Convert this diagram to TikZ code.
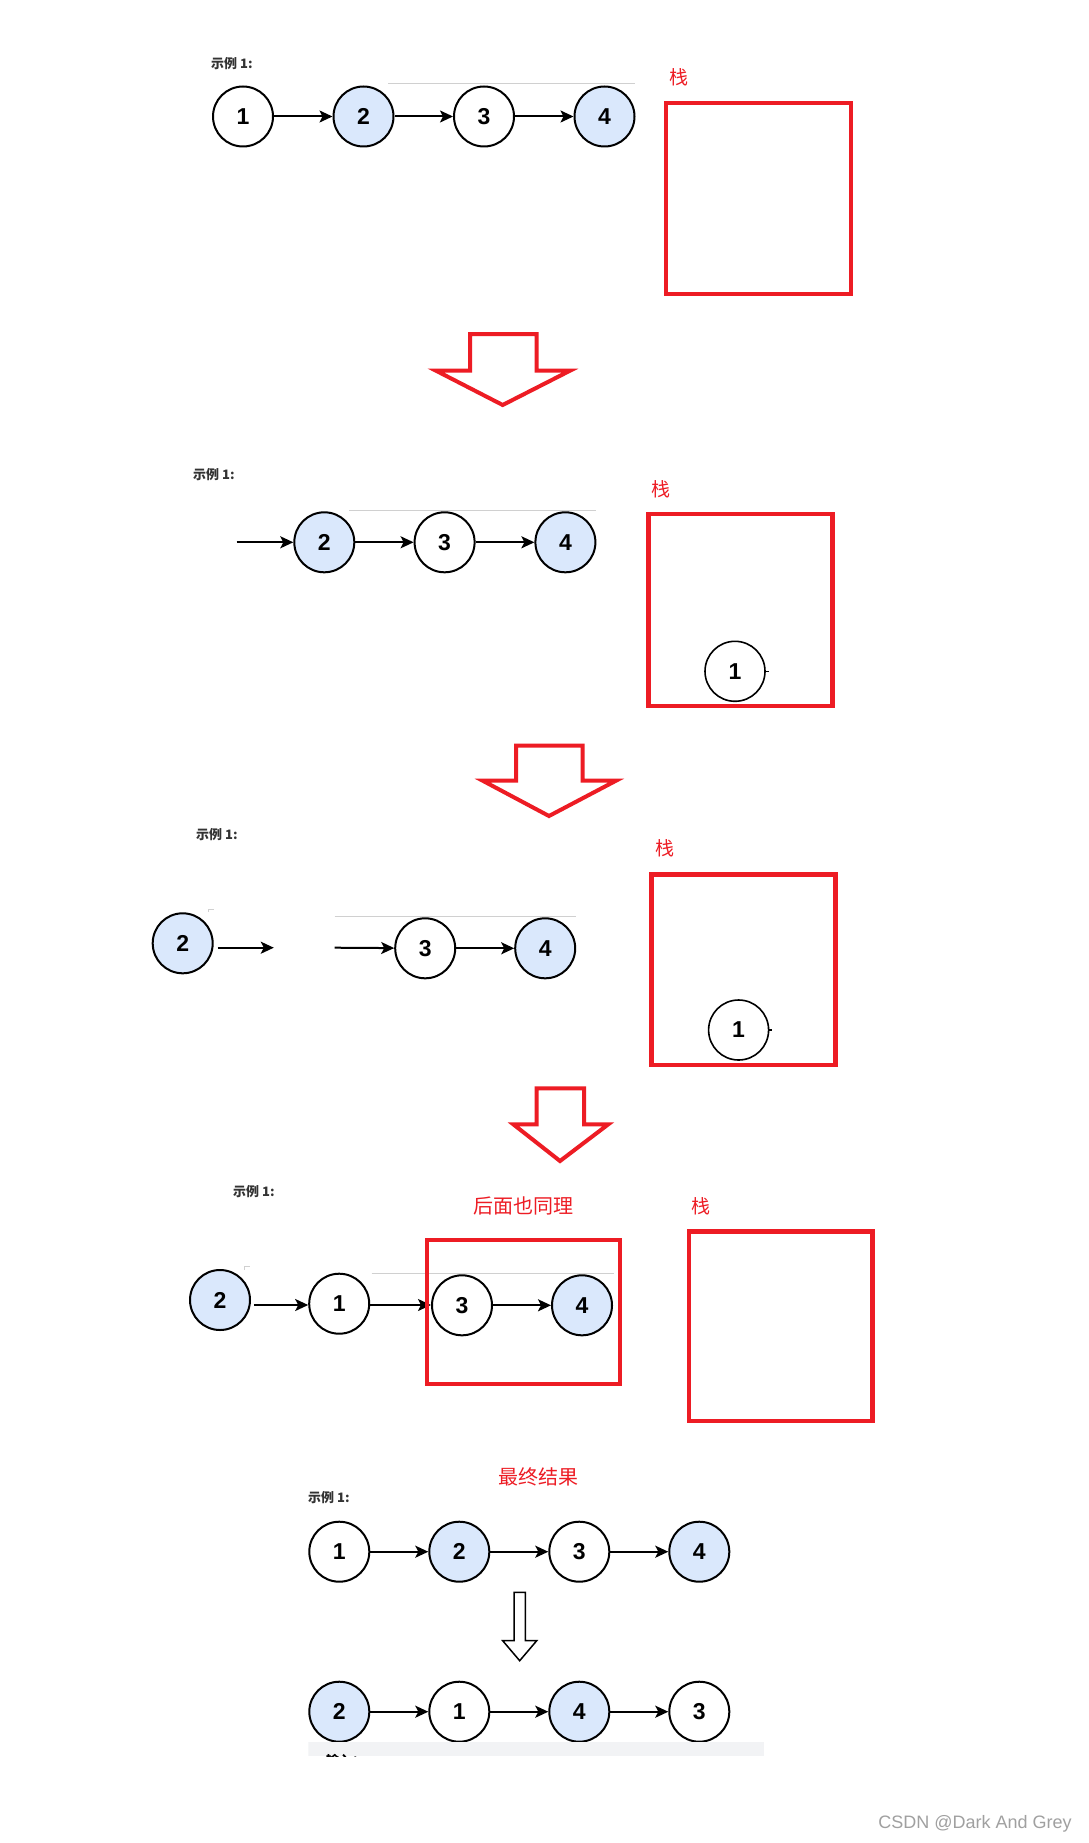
\documentclass[tikz,border=0pt]{standalone}
\usepackage{fontspec}
\setmainfont{Liberation Sans}
\newfontfamily\cjk{Noto Sans CJK SC}
\usetikzlibrary{arrows.meta}
\definecolor{pred}{RGB}{237,28,36}
\definecolor{nblue}{HTML}{DAE8FC}
\definecolor{lbl}{HTML}{333333}
\definecolor{faint}{HTML}{D0D0D0}
\definecolor{barc}{HTML}{F2F3F5}
\definecolor{wm}{HTML}{A0A0A0}
\tikzset{
  nd/.style={circle,draw=black,line width=2pt,minimum size=60pt,inner sep=0pt,fill=white,
    font=\fontsize{23}{23}\selectfont\bfseries},
  bl/.style={nd,fill=nblue},
  ed/.style={line width=2pt,-{Stealth[length=13pt,width=12pt,inset=3pt]}},
  redbox/.style={draw=pred,line width=4.5pt},
  bigarrow/.style={draw=pred,line width=4pt,line join=miter,fill=white},
  stacklbl/.style={text=pred,font=\cjk\fontsize{19}{19}\selectfont,inner sep=0pt},
  redlbl/.style={text=pred,font=\cjk\fontsize{20}{20}\selectfont,inner sep=0pt},
  exlbl/.style={text=lbl,font=\cjk\bfseries\fontsize{13}{13}\selectfont,inner sep=0pt,anchor=west},
  grayline/.style={draw=faint,line width=1pt},
}
\begin{document}
\begin{tikzpicture}[x=1pt,y=-1pt]
\useasboundingbox[fill=white] (0,0) rectangle (1088,1843);

% ---------- Section 1 ----------
\node[exlbl] (l1) at (211,64) {示例 1:};
\draw[grayline] (388,83.3) coordinate (g1a) -- (635,83.3) coordinate (g1b);
\node[nd] (a1) at (243,116.5) {1};
\node[bl] (a2) at (363.5,116.5) {2};
\node[nd] (a3) at (484,116.5) {3};
\node[bl] (a4) at (604.5,116.5) {4};
\draw[ed] (a1) -- (a2);
\draw[ed] (a2) -- (a3);
\draw[ed] (a3) -- (a4);
\node[stacklbl] (k1) at (679,77) {栈};
\draw[redbox] (666,103) rectangle (851,294);

% arrow 1
\draw[bigarrow] (470,334) -- (536.7,334) -- (536.7,370.7) -- (570,370.7) -- (502.7,405) -- (436,370.7) -- (470,370.7) -- cycle;

% ---------- Section 2 ----------
\node[exlbl] (l2) at (193,475) {示例 1:};
\draw[grayline] (349,510.7) -- (596,510.7);
\coordinate (b0) at (236.7,542.3);
\node[bl] (b2) at (324.3,542.3) {2};
\node[nd] (b3) at (444.6,542.3) {3};
\node[bl] (b4) at (565.4,542.3) {4};
\draw[ed] (b0) -- (b2);
\draw[ed] (b2) -- (b3);
\draw[ed] (b3) -- (b4);
\node[stacklbl] (k2) at (661,489) {栈};
\draw[redbox] (648.5,514) rectangle (832.4,706);
\node[nd,line width=1.6pt] (s1) at (735,671.3) {1};
\draw[line width=1.5pt] (s1.east) -- ++(3,0);

% arrow 2
\draw[bigarrow] (516,745.7) -- (582.7,745.7) -- (582.7,780.7) -- (616,780.7) -- (549,816) -- (482.7,780.7) -- (516,780.7) -- cycle;

% ---------- Section 3 ----------
\node[exlbl] (l3) at (196,835) {示例 1:};
\draw[grayline] (334.7,916) -- (576,916);
\draw[draw=faint,line width=0.8pt] (208,912) -- (208,909) -- (214,909);
\node[bl] (c2) at (182.7,943.3) {2};
\coordinate (c2a) at (217.5,947.7);
\coordinate (c2b) at (273.8,947.7);
\coordinate (c3a) at (334.7,947.7);
\node[nd] (c3) at (425.2,948.3) {3};
\node[bl] (c4) at (545.2,948.3) {4};
\draw[ed] (c2a) -- (c2b);
\draw[ed] (c3a) -- (c3);
\draw[ed] (c3) -- (c4);
\node[stacklbl] (k3) at (665,848) {栈};
\draw[redbox] (651.25,874.25) rectangle (835.25,1064.75);
\node[nd,line width=1.6pt] (s2) at (738.6,1030) {1};
\draw[line width=1.5pt] (s2.east) -- ++(3,0);

% arrow 3
\draw[bigarrow] (536.7,1088.3) -- (584,1088.3) -- (584,1124.3) -- (608.3,1124.3) -- (560,1161) -- (513.3,1124.3) -- (536.7,1124.3) -- cycle;

% ---------- Section 4 ----------
\node[exlbl] (l4) at (233,1192) {示例 1:};
\node[redlbl] (r4) at (523,1206) {后面也同理};
\node[stacklbl] (k4) at (701,1206) {栈};
\draw[grayline] (371.5,1273.3) -- (613.8,1273.3);
\draw[draw=faint,line width=0.8pt] (244.6,1269.5) -- (244.6,1266.7) -- (250,1266.7);
\node[bl] (d2) at (220,1300) {2};
\node[nd] (d1) at (339.2,1303.7) {1};
\node[nd] (d3) at (462,1305.3) {3};
\node[bl] (d4) at (582,1305.3) {4};
\coordinate (d2a) at (253.8,1305);
\draw[ed] (d2a) -- (d1.west |- d2a);
\draw[ed] (d1.east |- d2a) -- (d3.west |- d2a);
\draw[ed] (d3) -- (d4);
\draw[redbox] (426.75,1240) rectangle (619.75,1383.75);
\draw[redbox] (688.75,1231.25) rectangle (872.45,1420.75);

% ---------- Section 5 ----------
\node[redlbl] (r5) at (538.8,1477) {最终结果};
\node[exlbl] (l5) at (308,1498) {示例 1:};
\node[nd] (e1) at (339.3,1551.7) {1};
\node[bl] (e2) at (459.3,1551.7) {2};
\node[nd] (e3) at (579.3,1551.7) {3};
\node[bl] (e4) at (699.3,1551.7) {4};
\draw[ed] (e1) -- (e2);
\draw[ed] (e2) -- (e3);
\draw[ed] (e3) -- (e4);
\draw[draw=black,line width=1.5pt,fill=white] (514,1592.3) -- (525.3,1592.3) -- (525.3,1640.7) -- (536.7,1640.7) -- (519.7,1660.7) -- (502.7,1640.7) -- (514,1640.7) -- cycle;
\node[bl] (f2) at (339.3,1711.7) {2};
\node[nd] (f1) at (459.3,1711.7) {1};
\node[bl] (f4) at (579.3,1711.7) {4};
\node[nd] (f3) at (699.3,1711.7) {3};
\draw[ed] (f2) -- (f1);
\draw[ed] (f1) -- (f4);
\draw[ed] (f4) -- (f3);
\begin{scope}
  \clip (308.3,1741.7) rectangle (764,1756);
  \fill[barc] (308.3,1741.7) rectangle (764,1756);
  \node[text=black,font=\cjk\bfseries\fontsize{13}{13}\selectfont,inner sep=0pt,anchor=north west] (inp) at (326,1754.3) {输入：};
\end{scope}

% watermark
\node[text=wm,font=\fontsize{18}{18}\selectfont,inner sep=0pt] (wmk) at (975,1823.5) {CSDN @Dark And Grey};
\end{tikzpicture}
\end{document}
